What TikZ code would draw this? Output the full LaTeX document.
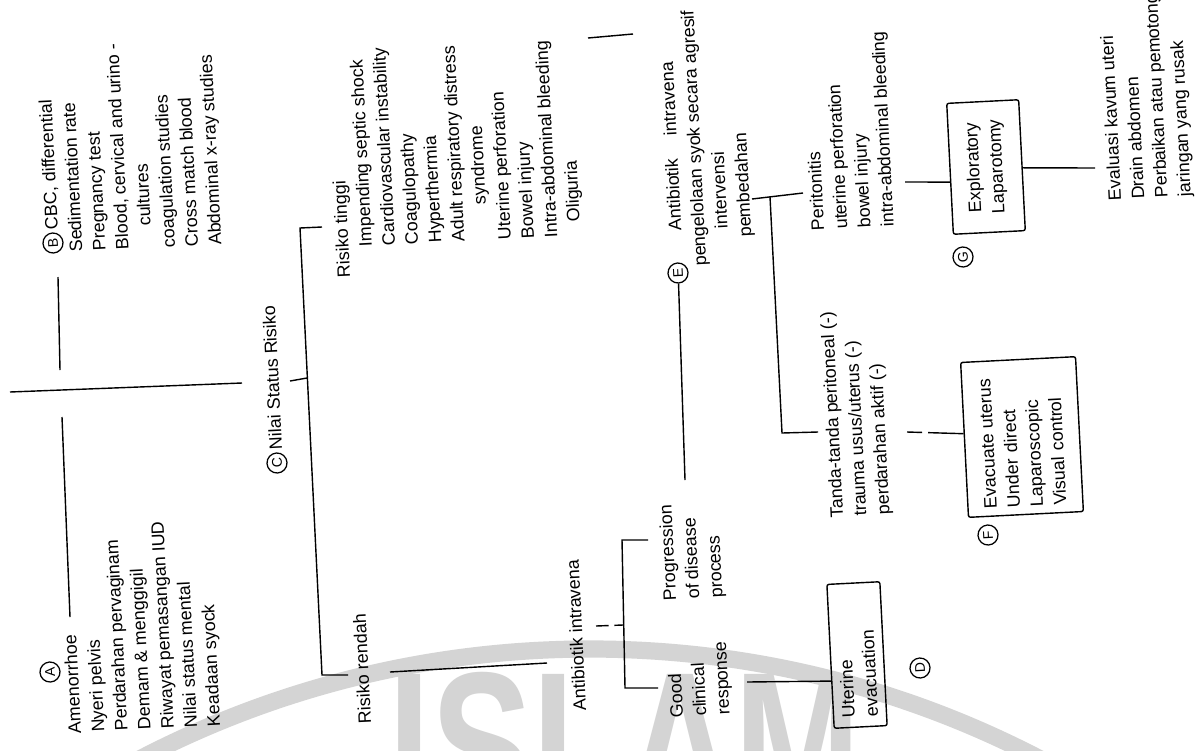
\documentclass[tikz,border=0pt]{standalone}
\usepackage{fontspec}
\setmainfont{Liberation Sans}
\usetikzlibrary{calc}
\newcommand\bodyfont{\fontsize{12.7}{16.5}\selectfont}
\newcommand\circfont{\fontsize{10}{12}\selectfont}
\newcommand\ind{\hspace*{21pt}}
\begin{document}
\begin{tikzpicture}[x=0.025cm, y=-0.025cm,
  txt/.style={rotate=92.9, anchor=north west, inner sep=0pt, align=left, font=\bodyfont},
  tag/.style={draw, circle, inner sep=0pt, minimum size=0.5cm, rotate=92.9, font=\circfont, line width=0.9pt},
  panel/.style={draw, line width=1pt, rotate=92.9, font=\bodyfont, align=left, rounded corners=1.5pt, inner sep=0pt},
  link/.style={line width=1pt},
  broken/.style={link, dash pattern=on 9pt off 4pt},
  gapped/.style={link, dash pattern=on 10.7pt off 4.3pt on 60pt off 1pt},
  wmark/.style={black!17}]
\useasboundingbox (0,0) rectangle (1200,750);
\fill[white] (0,0) rectangle (1200,750);

% faint seal in the background
\begin{scope}
  \clip (0,0) rectangle (1200,750);
  \draw[wmark, line width=0.43cm] (590,1624) circle[radius=975];
  \node[wmark, anchor=north, inner sep=0pt, xscale=0.72,
        font=\fontsize{150}{150}\bfseries\selectfont] (seal) at (625,672) {ISLAM};
\end{scope}

% A: history and signs
\node[tag] (circA) at (50,672) {A};
\node[txt] (listA) at (68,734) {Amenorrhoe\\Nyeri pelvis\\Perdarahan pervaginam\\Demam \& menggigil\\Riwayat pemasangan IUD\\Nilai status mental\\Keadaan syock};

% B: laboratory work-up
\node[tag] (circB) at (53,243) {B};
\node[txt] (listB) at (46,254) {\hspace*{17pt}CBC, differential\\Sedimentation rate\\Pregnancy test\\Blood, cervical and urino -\\\hspace*{16pt}cultures\\coagulation studies\\Cross match blood\\Abdominal x-ray studies};

% C: risk assessment
\node[tag] (circC) at (277,463) {C};
\node[txt] (nilai) at (269,450) {Nilai Status Risiko};

\node[txt] (rtList) at (337,278) {Risiko tinggi\\\ind Impending septic shock\\\ind Cardiovascular instability\\\ind Coagulopathy\\\ind Hyperthermia\\\ind Adult respiratory distress\\\hspace*{47pt}syndrome\\\ind Uterine perforation\\\ind Bowel injury\\\ind Intra-abdominal bleeding\\\hspace*{31pt}Oliguria};

\node[txt] (rrLbl) at (358,724) {Risiko rendah};
\node[txt] (abLow) at (573,711) {Antibiotik intravena};
\node[txt] (prog) at (663,601) {Progression\\of disease\\process};
\node[txt] (good) at (670,718) {Good\\clinical\\response};

% D
\node[panel, minimum width=3.6cm, minimum height=1.325cm, text width=3.1cm] (dbox) at (857,655) {Uterine\\evacuation};
\node[tag] (circD) at (920,668) {D};

% E
\node[tag] (circE) at (678,273) {E};
\node[txt] (eText) at (670,268) {\hspace*{26pt}Antibiotik\hspace{1.3em}intravena\\pengelolaan syok secara agresif\\\hspace*{26pt}intervensi\\\hspace*{19pt}pembedahan};

\node[txt] (perList) at (811,231) {Peritonitis\\uterine perforation\\bowel injury\\intra-abdominal bleeding};
\node[txt] (tanda) at (830,518) {Tanda-tanda peritoneal (-)\\trauma usus/uterus (-)\\perdarahan aktif (-)};

% F
\node[panel, minimum width=3.875cm, minimum height=2.875cm, text width=3.5cm] (fbox) at (1022,437) {Evacuate uterus\\Under direct\\Laparoscopic\\Visual control};
\node[tag] (circF) at (988,535) {F};

% G
\node[panel, minimum width=3.275cm, minimum height=1.8cm, align=center] (gbox) at (986,167) {Exploratory\\Laparotomy};
\node[tag] (circG) at (963,257) {G};
\node[txt] (evList) at (1108,201) {Evaluasi kavum uteri\\Drain abdomen\\Perbaikan atau pemotongan\\jaringan yang rusak};

% connectors
\coordinate (trunkTop) at (10,392);
\coordinate (trunkEnd) at (242,383);
\draw[link] (trunkTop) -- (trunkEnd);
\coordinate (bEnd) at (58,277);
\coordinate (bGap) at (60,370);
\coordinate (aGap) at (62,417);
\coordinate (aEnd) at (70,617);
\draw[link] (bEnd) -- (bGap);
\draw[link] (aGap) -- (aEnd);

\coordinate (cTick) at (290,381);
\coordinate (cJoin) at (307,378);
\coordinate (hiEnd) at (322,227);
\coordinate (brTop) at (300,228);
\coordinate (brBot) at (322,675);
\coordinate (loEnd) at (348,675);
\draw[link] (cTick) -- (cJoin);
\draw[link] (hiEnd) -- (brTop) -- (brBot) -- (loEnd);
\coordinate (loCont) at (390,672);
\coordinate (abIn) at (547,663);
\draw[link] (loCont) -- (abIn);

\coordinate (abOut) at (596,626);
\coordinate (forkMid) at (623,625);
\draw[broken] (abOut) -- (forkMid);
\coordinate (progIn) at (648,540);
\coordinate (forkTop) at (622,540);
\coordinate (forkBot) at (625,688);
\coordinate (goodIn) at (658,688);
\draw[link] (progIn) -- (forkTop) -- (forkBot) -- (goodIn);
\coordinate (progOut) at (685,480);
\draw[link] (progOut) -- (circE.west);
\coordinate (goodOut) at (747,682);
\draw[link] (goodOut) -- ($(dbox.north west)!0.33!(dbox.north east)$);

\coordinate (hiOut) at (588,38);
\coordinate (eIn) at (633,34);
\draw[link] (hiOut) -- (eIn);

\coordinate (eOut) at (752,199);
\coordinate (eFork) at (770,197);
\coordinate (perIn) at (803,193);
\draw[link] (eOut) -- (perIn);
\coordinate (splitBot) at (782,433);
\coordinate (tandaIn) at (818,432);
\draw[link] (eFork) -- (splitBot) -- (tandaIn);
\coordinate (tandaOut) at (907,432);
\draw[gapped] (tandaOut) -- ($(fbox.north west)!0.54!(fbox.north east)$);
\coordinate (perOut) at (905,182);
\draw[link] (perOut) -- ($(gbox.north west)!0.40!(gbox.north east)$);
\coordinate (evIn) at (1095,168);
\draw[link] ($(gbox.south west)!0.48!(gbox.south east)$) -- (evIn);
\end{tikzpicture}
\end{document}
